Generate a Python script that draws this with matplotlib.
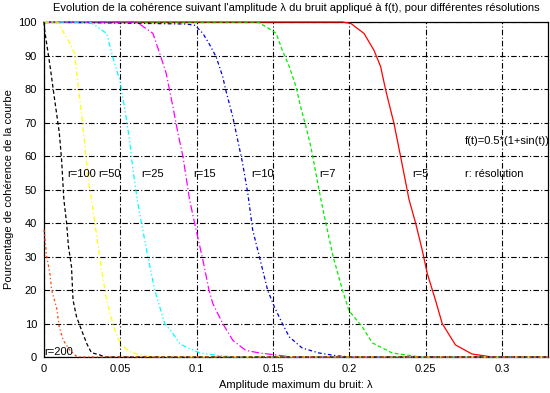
import matplotlib
matplotlib.use("Agg")
import matplotlib.pyplot as plt

plt.rcParams['font.family'] = ['Liberation Sans', 'DejaVu Sans']

# courbes (x = amplitude du bruit, y = % de coherence)
x_r200 = [0.0, 0.0018, 0.004, 0.005, 0.0083, 0.010, 0.0126, 0.017, 0.021, 0.024, 0.33]
y_r200 = [38, 30, 24.5, 20, 14.6, 9, 5, 2, 0.3, 0, 0]

x_r100 = [0.0, 0.0003, 0.004, 0.007, 0.010, 0.0115, 0.013, 0.0148, 0.016, 0.018, 0.019,
          0.0213, 0.0246, 0.028, 0.031, 0.0366, 0.040, 0.33]
y_r100 = [100, 98, 86.7, 76.7, 67, 59, 47, 40, 33, 27, 17, 12, 8, 4, 1.3, 0.6, 0, 0]

x_r50 = [0.0, 0.009, 0.0126, 0.017, 0.020, 0.0224, 0.0246, 0.0268, 0.029, 0.031, 0.0333,
         0.0355, 0.0377, 0.041, 0.045, 0.048, 0.0507, 0.056, 0.063, 0.071, 0.33]
y_r50 = [100, 100, 97, 93.6, 90.7, 80.7, 72.8, 62.8, 52.8, 47.4, 40, 33, 26, 17, 10, 6,
         3.6, 1.6, 0.6, 0, 0]

x_r25 = [0.0, 0.030, 0.0366, 0.041, 0.045, 0.0496, 0.053, 0.056, 0.058, 0.061, 0.0638,
         0.068, 0.0725, 0.079, 0.0844, 0.089, 0.093, 0.102, 0.115, 0.124, 0.33]
y_r25 = [100, 100, 98, 96.6, 89.6, 82.7, 73.7, 64.8, 56.8, 47, 40, 30, 20, 10, 7, 3.9,
         3, 1.2, 0.4, 0, 0]

x_r15 = [0.0, 0.0605, 0.067, 0.0713, 0.0757, 0.080, 0.0844, 0.0877, 0.091, 0.0953, 0.0986,
         0.104, 0.108, 0.1105, 0.117, 0.1236, 0.132, 0.141, 0.152, 0.162, 0.33]
y_r15 = [100, 100, 98, 96.6, 90.7, 84.7, 74.7, 66.8, 59.8, 47, 40, 29, 20, 16, 10, 5,
         2, 1.2, 0.6, 0, 0]

x_r10 = [0.0, 0.093, 0.099, 0.104, 0.108, 0.1127, 0.117, 0.119, 0.1236, 0.1268, 0.130,
         0.1334, 0.1366, 0.141, 0.1464, 0.1508, 0.156, 0.1606, 0.169, 0.180, 0.191, 0.20, 0.33]
y_r10 = [100, 99.4, 99, 96.6, 93.6, 89.6, 83.7, 79.7, 71.7, 64.8, 57.9, 49, 38, 30, 20,
         15, 10, 6, 2.7, 1.2, 0.4, 0, 0]

x_r7 = [0.0, 0.140, 0.1475, 0.152, 0.156, 0.1606, 0.165, 0.168, 0.1715, 0.1747, 0.178,
        0.1813, 0.1845, 0.1893, 0.1954, 0.1997, 0.2084, 0.215, 0.228, 0.2465, 0.33]
y_r7 = [100, 100, 98, 96.6, 91.6, 86.7, 80.7, 74.7, 68.8, 62.8, 54.9, 47, 40, 30, 20,
        13.8, 9, 4.2, 1.2, 0, 0]

x_r5 = [0.0, 0.1954, 0.2008, 0.2095, 0.216, 0.2204, 0.2237, 0.2291, 0.2335, 0.239, 0.2433,
        0.2476, 0.2509, 0.2563, 0.2607, 0.2694, 0.2802, 0.2933, 0.33]
y_r5 = [100, 100, 99.6, 96.6, 91.6, 86.7, 79.7, 69.8, 59.8, 47, 40, 32, 25, 17, 10, 3.6,
        0.9, 0, 0]

labels = ['r=5', 'r=7', 'r=10', 'r=15', 'r=25', 'r=50', 'r=100', 'r=200']
label_x = [0.241, 0.180, 0.1355, 0.098, 0.064, 0.0352, 0.015, 0.0]
label_y = [53.8, 53.8, 53.8, 53.8, 53.8, 53.8, 53.8, 0.5]

xticks = [0, 0.05, 0.1, 0.15, 0.2, 0.25, 0.3]
xticklabels = ['0', '0.05', '0.1', '0.15', '0.2', '0.25', '0.3']
yticks = list(range(0, 101, 10))

fs = 8

fig = plt.figure(figsize=(5.5, 3.93), dpi=100)
ax = fig.add_axes([0.08, 0.0916, 0.9164, 0.8524])

curves = [
    (x_r5, y_r5, 'red', '-'),
    (x_r7, y_r7, '#00ee00', (0, (3, 2))),
    (x_r10, y_r10, '#0000dd', (0, (1, 2, 3, 2))),
    (x_r15, y_r15, 'magenta', (0, (6, 2, 1, 2))),
    (x_r25, y_r25, 'cyan', (0, (4, 2, 1, 2, 1, 2))),
    (x_r50, y_r50, 'yellow', (0, (4, 2, 1, 2))),
    (x_r100, y_r100, 'black', (0, (3, 2))),
    (x_r200, y_r200, '#ff4400', (0, (2, 2, 1, 2))),
]
for xs, ys, c, ls in curves:
    ax.plot(xs, ys, color=c, linestyle=ls, linewidth=0.9, clip_on=False, zorder=3)

for lab, lx, ly in zip(labels, label_x, label_y):
    ax.text(lx, ly, lab, fontsize=fs, ha='left', va='baseline')
ax.text(0.2755, 53.8, 'r: résolution', fontsize=fs, ha='left', va='baseline')
ax.text(0.2755, 63.5, 'f(t)=0.5*(1+sin(t))', fontsize=fs, ha='left', va='baseline')

ax.set_xlim(0, 0.33)
ax.set_ylim(0, 100)
ax.set_xticks(xticks)
ax.set_xticklabels(xticklabels)
ax.set_yticks(yticks)
ax.tick_params(length=0, labelsize=fs, pad=5)
ax.grid(True, color='black', linestyle=(0, (5, 2, 1, 2)), linewidth=0.8)
for s in ax.spines.values():
    s.set_linewidth(0.9)

ax.set_title("Evolution de la cohérence suivant l'amplitude λ du bruit appliqué à f(t), pour différentes résolutions",
             fontsize=fs, pad=8)
ax.set_xlabel('Amplitude maximum du bruit: λ', fontsize=fs, labelpad=4)
ax.set_ylabel('Pourcentage de cohérence de la courbe', fontsize=fs, labelpad=3)

fig.savefig('out.png', dpi=100)
